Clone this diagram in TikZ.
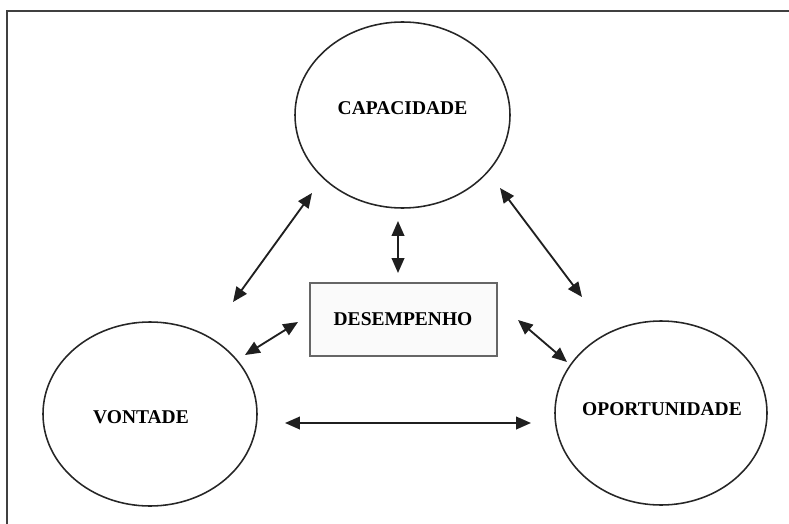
\documentclass[tikz,border=0pt]{standalone}
\usepackage{fontspec}
\setmainfont{Liberation Serif}
\usetikzlibrary{shapes.geometric,arrows.meta}
\tikzset{
	circulo/.style={draw, ellipse, line width=0.55mm, color=black!85, text=black},
	caixa/.style={draw, rectangle, line width=0.5mm, color=black!60, fill=black!2, text=black},
	rotulo/.style={font=\fontsize{19.5}{22}\selectfont\bfseries},
	seta/.style={line width=0.65mm, color=black!88, {Triangle[length=5.2mm,width=4.4mm]}-{Triangle[length=5.2mm,width=4.4mm]}}
}

\begin{document}
\begin{tikzpicture}[x=1pt, y=-1pt]
			%%%%% START %%%%%
			
			\useasboundingbox (0, 0) rectangle (789, 524);
			\draw[line width=0.55mm, color=black!75] (7, 524) -- (7, 11) -- (789, 11);
			
			\draw[circulo] (402.5, 115) ellipse (107.5 and 93);
			\draw[circulo] (150, 414) ellipse (107 and 92);
			\draw[circulo] (661, 413) ellipse (106 and 92);
			
			\node[rotulo] (capacidade) at (402.5, 108) {CAPACIDADE};
			\node[rotulo] (vontade) at (141, 417) {VONTADE};
			\node[rotulo] (oportunidade) at (662, 409) {OPORTUNIDADE};
			
			\draw[caixa] (310, 283) rectangle (497, 356);
			\node[rotulo] (desempenho) at (403, 319) {DESEMPENHO};
			
			\coordinate (cv1) at (233, 302);
			\coordinate (cv2) at (312, 193);
			\coordinate (cd1) at (398, 221);
			\coordinate (cd2) at (398, 273);
			\coordinate (co1) at (500, 188);
			\coordinate (co2) at (582, 297);
			\coordinate (vd1) at (245, 355);
			\coordinate (vd2) at (298, 322);
			\coordinate (do1) at (518, 320);
			\coordinate (do2) at (567, 362);
			\coordinate (vo1) at (285, 423);
			\coordinate (vo2) at (531, 423);
			
			\draw[seta] (cv1) -- (cv2);
			\draw[seta] (cd1) -- (cd2);
			\draw[seta] (co1) -- (co2);
			\draw[seta] (vd1) -- (vd2);
			\draw[seta] (do1) -- (do2);
			\draw[seta] (vo1) -- (vo2);
			
			%%%%% END %%%%%
\end{tikzpicture}
\end{document}
